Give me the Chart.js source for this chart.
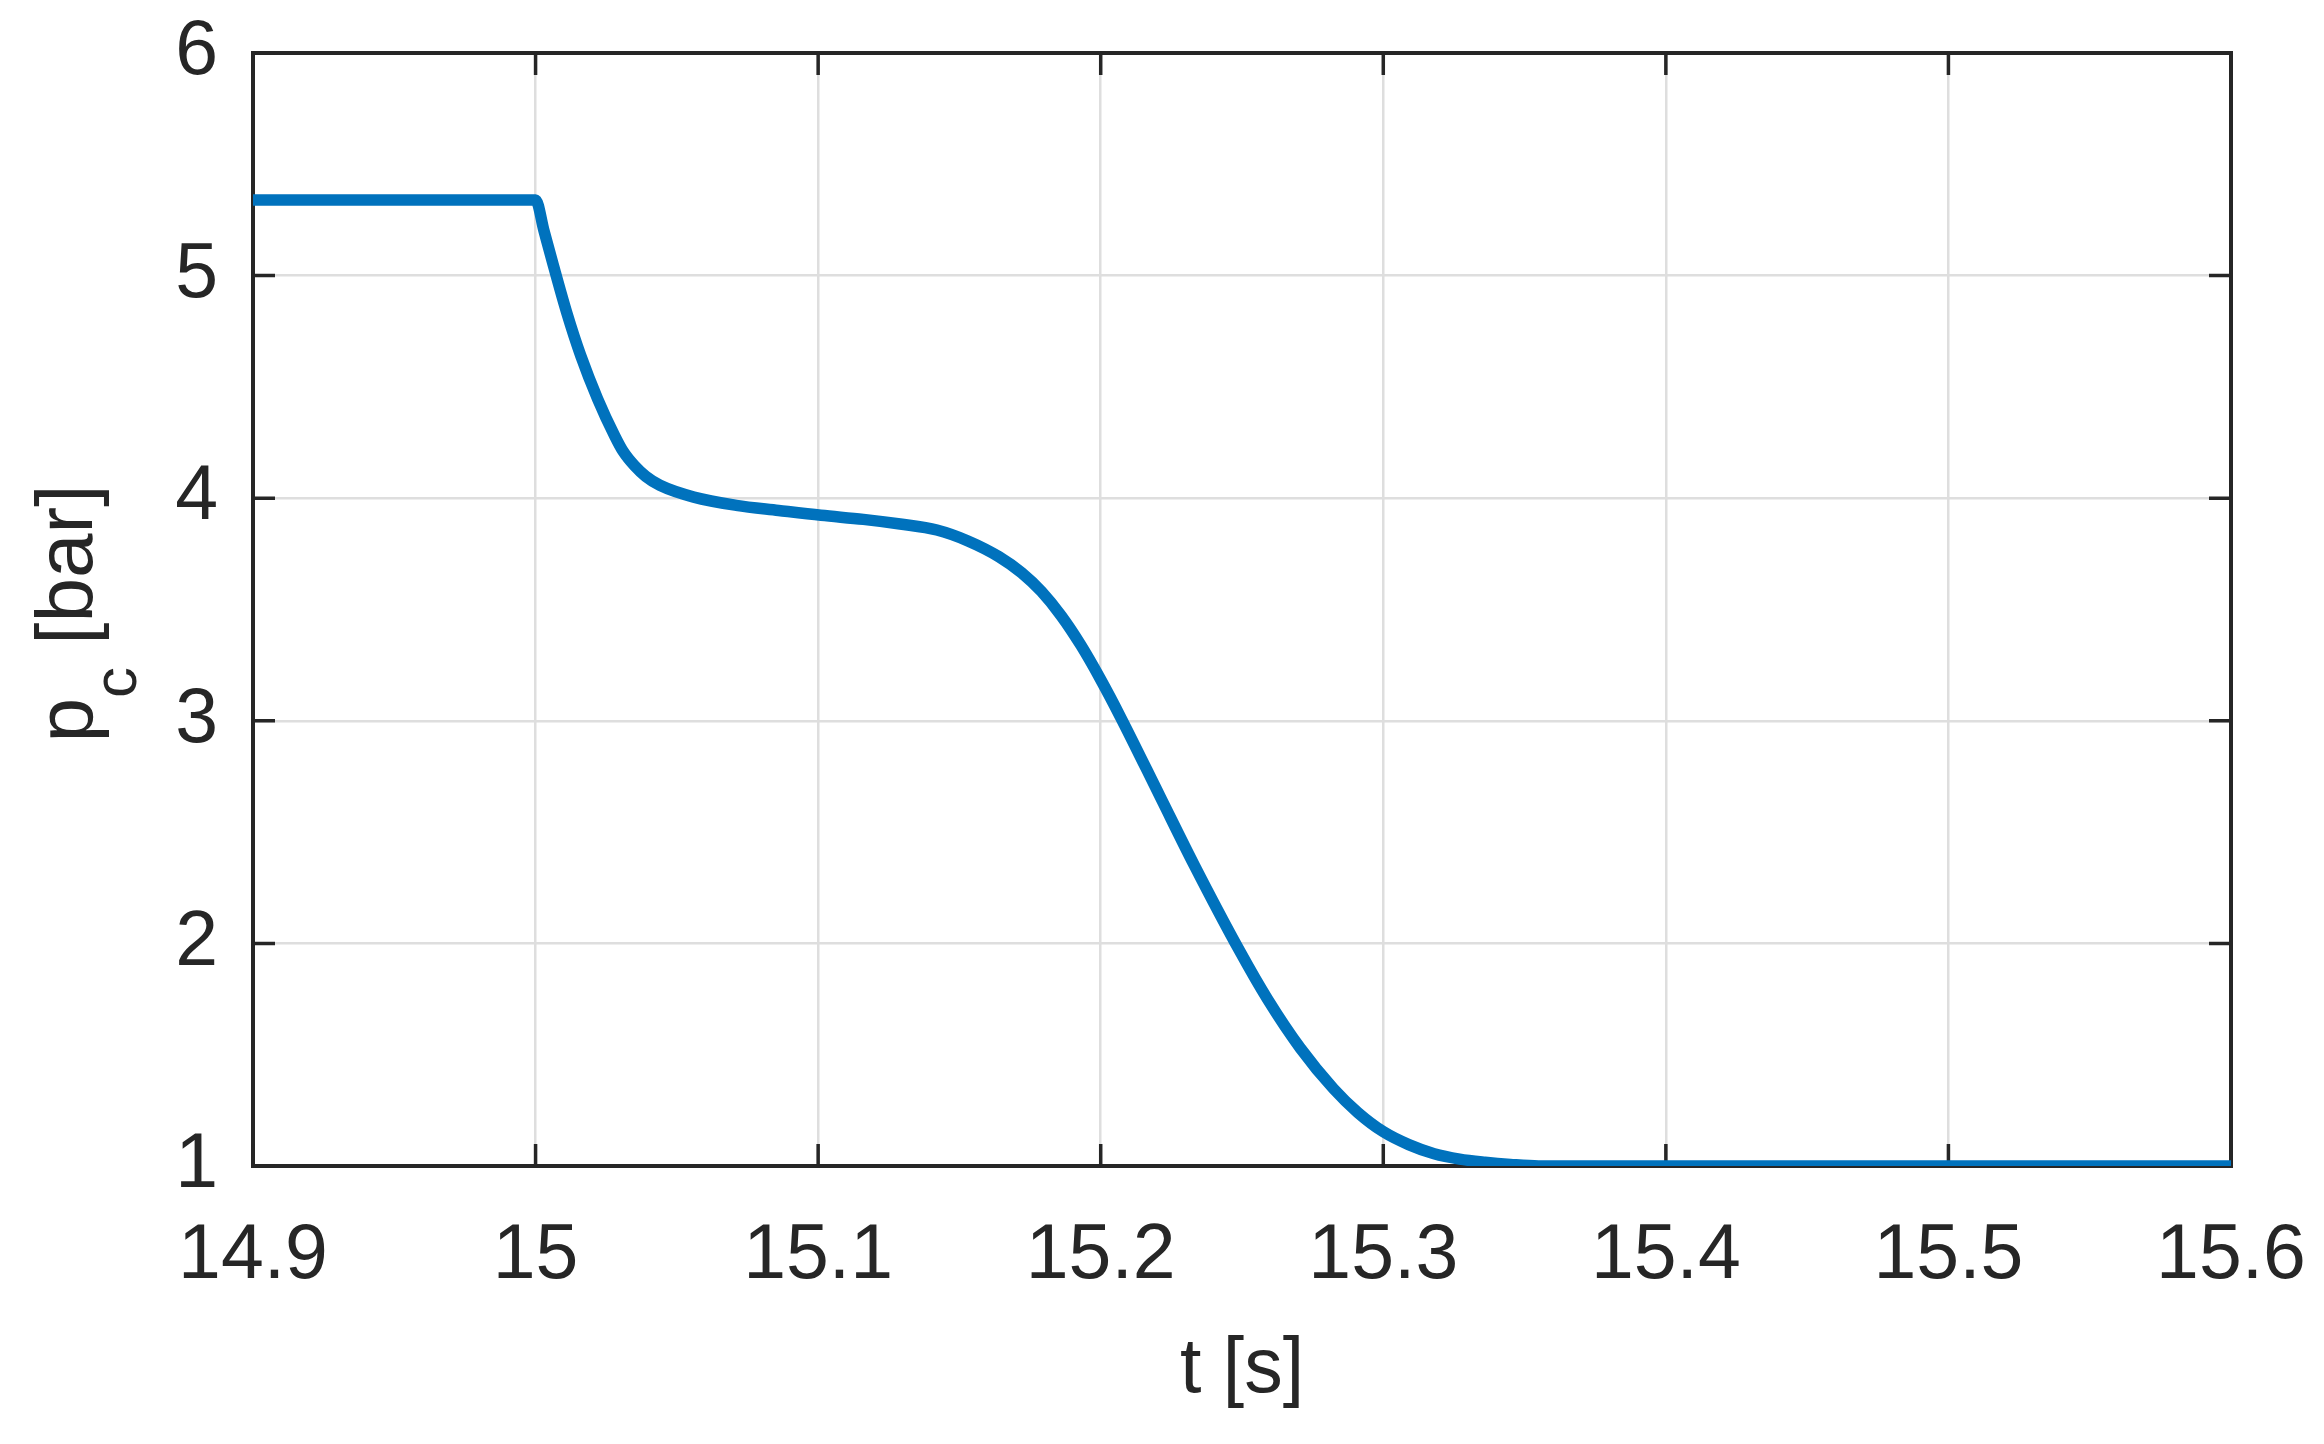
<!DOCTYPE html>
<html>
<head>
<meta charset="utf-8">
<script src="https://cdn.jsdelivr.net/npm/chart.js@4.4.1/dist/chart.umd.min.js"></script>
<style>
html,body{margin:0;padding:0;background:#ffffff;}
canvas{display:block;}
</style>
</head>
<body>
<canvas id="c" width="2324" height="1444"></canvas>
<script>
// ---- data ----
const timeS = [14.900, 15.000, 15.003, 15.006, 15.011, 15.016, 15.022, 15.028, 15.031, 15.035,
               15.039, 15.044, 15.056, 15.071, 15.086, 15.101, 15.116, 15.129, 15.142, 15.153,
               15.164, 15.172, 15.179, 15.186, 15.193, 15.200, 15.207, 15.221, 15.233, 15.249,
               15.259, 15.2706, 15.2824, 15.291, 15.300, 15.309, 15.318, 15.327, 15.336, 15.345,
               15.355, 15.600];
const pressureBar = [5.34, 5.34, 5.20, 5.06, 4.835, 4.64, 4.445, 4.28, 4.21, 4.146,
                     4.098, 4.058, 4.005, 3.968, 3.945, 3.923, 3.905, 3.884, 3.857, 3.808,
                     3.737, 3.665, 3.581, 3.472, 3.339, 3.185, 3.017, 2.66, 2.354, 1.97,
                     1.75, 1.53, 1.347, 1.24, 1.154, 1.096, 1.055, 1.031, 1.017, 1.007,
                     1.0, 1.0];
const xTicks = [14.9, 15.0, 15.1, 15.2, 15.3, 15.4, 15.5, 15.6];
const xTickLabels = ['14.9', '15', '15.1', '15.2', '15.3', '15.4', '15.5', '15.6'];
const yTicks = [1, 2, 3, 4, 5, 6];
const yTickLabels = ['1', '2', '3', '4', '5', '6'];
const xTitle = 't [s]';
const yTitleMain = 'p';
const yTitleSub = 'c';
const yTitleRest = ' [bar]';

const FONT = '"Liberation Sans", Arial, Helvetica, sans-serif';
const INK = '#262626';

const points = timeS.map((t, i) => ({x: t, y: pressureBar[i]}));

const framePlugin = {
  id: 'matlabFrame',
  beforeDatasetsDraw(chart) {
    const {ctx, chartArea: a, scales} = chart;
    const xs = scales.x, ys = scales.y;
    ctx.save();
    ctx.strokeStyle = INK;
    ctx.lineWidth = 4;
    ctx.strokeRect(a.left, a.top, a.right - a.left, a.bottom - a.top);
    const L = 22;
    ctx.lineWidth = 3.5;
    ctx.beginPath();
    xTicks.forEach(v => {
      const px = xs.getPixelForValue(v);
      ctx.moveTo(px, a.bottom); ctx.lineTo(px, a.bottom - L);
      ctx.moveTo(px, a.top); ctx.lineTo(px, a.top + L);
    });
    yTicks.forEach(v => {
      const py = ys.getPixelForValue(v);
      ctx.moveTo(a.left, py); ctx.lineTo(a.left + L, py);
      ctx.moveTo(a.right, py); ctx.lineTo(a.right - L, py);
    });
    ctx.stroke();
    ctx.restore();
  },
  afterDraw(chart) {
    const {ctx, chartArea: a} = chart;
    const mainFont = '80px ' + FONT;
    const subFont = '62px ' + FONT;
    ctx.save();
    ctx.fillStyle = INK;
    ctx.textBaseline = 'alphabetic';
    ctx.textAlign = 'left';
    ctx.font = mainFont;
    const wP = ctx.measureText(yTitleMain).width;
    const wR = ctx.measureText(yTitleRest).width;
    ctx.font = subFont;
    const wC = ctx.measureText(yTitleSub).width;
    const W = wP + wC + wR;
    const bx = a.left - 161;
    const cy = (a.top + a.bottom) / 2 + 4;
    ctx.translate(bx, cy);
    ctx.rotate(-Math.PI / 2);
    let u = -W / 2;
    ctx.font = mainFont;
    ctx.fillText(yTitleMain, u, 0);
    u += wP;
    ctx.font = subFont;
    ctx.fillText(yTitleSub, u, 44);
    u += wC;
    ctx.font = mainFont;
    ctx.fillText(yTitleRest, u, 0);
    ctx.restore();
  }
};

new Chart(document.getElementById('c'), {
  type: 'line',
  data: {
    datasets: [{
      data: points,
      borderColor: '#0072BD',
      borderWidth: 11.5,
      pointRadius: 0,
      fill: false,
      cubicInterpolationMode: 'monotone'
    }]
  },
  options: {
    responsive: false,
    devicePixelRatio: 1,
    animation: false,
    events: [],
    layout: {padding: {left: 0, top: 53, right: 93, bottom: 0}},
    plugins: {legend: {display: false}, tooltip: {enabled: false}},
    scales: {
      x: {
        type: 'linear',
        min: 14.9,
        max: 15.6,
        afterBuildTicks(scale) { scale.ticks = xTicks.map(v => ({value: v})); },
        afterFit(scale) {
          scale.height = 278;
          scale.paddingLeft = 0;
          scale.paddingRight = 0;
        },
        ticks: {
          autoSkip: false,
          maxRotation: 0,
          padding: 45,
          color: INK,
          font: {family: FONT, size: 77},
          callback: (v, i) => xTickLabels[i]
        },
        grid: {color: '#dedede', lineWidth: 2.5, drawTicks: false},
        border: {display: false},
        title: {
          display: true,
          text: xTitle,
          color: INK,
          font: {family: FONT, size: 77},
          padding: {top: 0, bottom: 27}
        }
      },
      y: {
        type: 'linear',
        min: 1,
        max: 6,
        afterBuildTicks(scale) { scale.ticks = yTicks.map(v => ({value: v})); },
        afterFit(scale) {
          scale.width = 253;
          scale.paddingTop = 0;
          scale.paddingBottom = 0;
        },
        ticks: {
          autoSkip: false,
          padding: 35,
          color: INK,
          font: {family: FONT, size: 77},
          callback: (v, i) => yTickLabels[i]
        },
        grid: {color: '#dedede', lineWidth: 2.5, drawTicks: false},
        border: {display: false}
      }
    }
  },
  plugins: [framePlugin]
});
</script>
</body>
</html>
